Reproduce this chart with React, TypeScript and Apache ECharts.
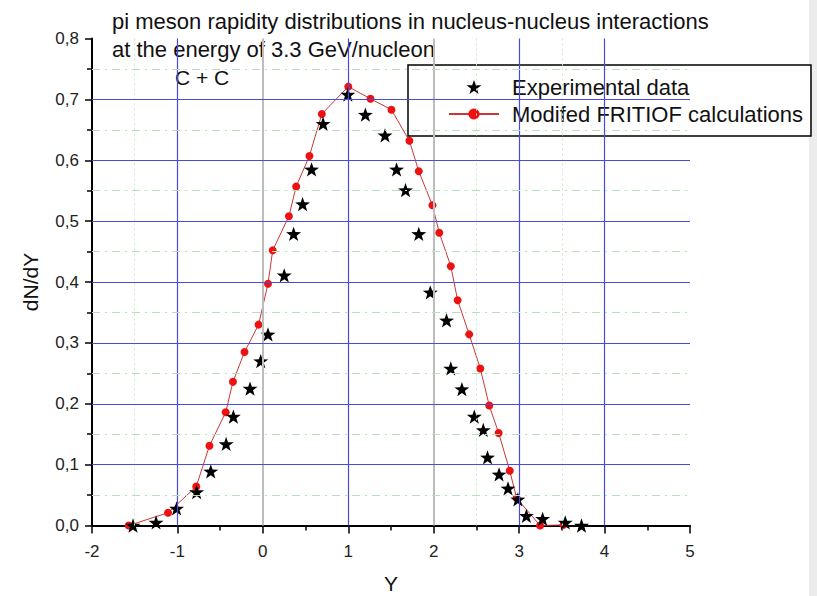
import React, { useEffect, useRef } from "react";
import * as echarts from "echarts";

// ---- data ----
const calcX = [-1.57, -1.11, -0.78, -0.625, -0.435, -0.35, -0.215, -0.05, 0.06, 0.115, 0.305, 0.39, 0.545, 0.69, 1.0, 1.26, 1.505, 1.715, 1.825, 1.985, 2.065, 2.2, 2.28, 2.415, 2.545, 2.65, 2.76, 2.89, 2.97, 3.245, 3.52];
const calcY = [0.0, 0.021, 0.064, 0.131, 0.186, 0.236, 0.285, 0.33, 0.397, 0.452, 0.508, 0.557, 0.607, 0.676, 0.721, 0.701, 0.683, 0.632, 0.582, 0.526, 0.481, 0.426, 0.37, 0.314, 0.258, 0.197, 0.152, 0.09, 0.045, 0.0, 0.001];

const expX = [-1.52, -1.25, -1.01, -0.775, -0.61, -0.43, -0.345, -0.15, -0.025, 0.06, 0.25, 0.36, 0.465, 0.57, 0.705, 0.995, 1.2, 1.43, 1.565, 1.67, 1.825, 1.96, 2.15, 2.2, 2.33, 2.475, 2.58, 2.63, 2.765, 2.87, 2.985, 3.085, 3.275, 3.54, 3.73];
const expY = [0.0, 0.005, 0.028, 0.055, 0.089, 0.134, 0.179, 0.225, 0.27, 0.314, 0.411, 0.479, 0.528, 0.585, 0.66, 0.708, 0.675, 0.641, 0.585, 0.551, 0.479, 0.383, 0.337, 0.258, 0.224, 0.179, 0.157, 0.112, 0.084, 0.061, 0.043, 0.016, 0.011, 0.005, 0.0];

const seriesNames = ["Experimental data", "Modifed FRITIOF calculations"];
const titleLines = ["pi meson rapidity distributions in nucleus-nucleus interactions", "at the energy of 3.3 GeV/nucleon"];
const subTitle = "C + C";
const xAxisName = "Y";
const yAxisName = "dN/dY";

// grid lines
const vBlue = [-1, 1, 3, 4];
const vGray = [0, 2];
const vGreen = [-1.5, 2.5, 3.5];
const hBlue = [0.1, 0.2, 0.3, 0.4, 0.5, 0.6, 0.7];
const hGreen = [0.05, 0.15, 0.25, 0.35, 0.45, 0.55, 0.65, 0.75];

const STAR = "path://M50,0L61.76,33.82L97.55,34.55L69.02,56.18L79.39,90.45L50,70L20.61,90.45L30.98,56.18L2.45,34.55L38.24,33.82Z";
const FONT = "Liberation Sans, Arial, sans-serif";

export default function App() {
  const ref = useRef<HTMLDivElement>(null);
  useEffect(() => {
    if (!ref.current) return;
    const chart = echarts.init(ref.current, undefined, { renderer: "svg" });
    const blue = "#4a4adc";
    const gridLines: any[] = [
      ...vBlue.map((v) => ({ xAxis: v, lineStyle: { color: blue, width: 1.2, type: "solid" } })),
      ...vGray.map((v) => ({ xAxis: v, lineStyle: { color: "#bdbdbd", width: 2, type: "solid" } })),
      ...vGreen.map((v) => ({ xAxis: v, lineStyle: { color: "#cce8cc", width: 1, type: [2, 3] } })),
      ...hBlue.map((v) => ({ yAxis: v, lineStyle: { color: blue, width: 1.2, type: "solid" } })),
      ...hGreen.map((v) => ({ yAxis: v, lineStyle: { color: "#b8e0b8", width: 1, type: [8, 5, 2, 5] } })),
    ];
    chart.setOption({
      animation: false,
      backgroundColor: "#ffffff",
      textStyle: { fontFamily: FONT },
      grid: { left: 92, right: 127, top: 38.5, bottom: 70.5, containLabel: false, outerBoundsMode: "none" },
      xAxis: {
        type: "value",
        min: -2,
        max: 5,
        interval: 1,
        name: xAxisName,
        nameLocation: "middle",
        nameGap: 47,
        nameTextStyle: { fontSize: 21, color: "#111", fontFamily: FONT },
        axisLine: { show: true, onZero: false, lineStyle: { color: "#000", width: 2 } },
        axisTick: { show: true, inside: false, length: 8, lineStyle: { color: "#000", width: 1.5 } },
        minorTick: { show: true, splitNumber: 2, length: 5, lineStyle: { color: "#000", width: 1.5 } },
        axisLabel: { fontSize: 17, color: "#222", margin: 17, fontFamily: FONT },
        splitLine: { show: false },
      },
      yAxis: {
        type: "value",
        min: 0,
        max: 0.8,
        interval: 0.1,
        name: yAxisName,
        nameLocation: "middle",
        nameGap: 51,
        nameRotate: 90,
        nameTextStyle: { fontSize: 21, color: "#111", fontFamily: FONT },
        axisLine: { show: true, onZero: false, lineStyle: { color: "#000", width: 2 } },
        axisTick: { show: true, inside: false, length: 7, lineStyle: { color: "#000", width: 1.5 } },
        minorTick: { show: true, splitNumber: 2, length: 5, lineStyle: { color: "#000", width: 1.5 } },
        axisLabel: {
          fontSize: 17,
          color: "#222",
          margin: 13,
          fontFamily: FONT,
          formatter: (v: number) => v.toFixed(1).replace(".", ","),
        },
        splitLine: { show: false },
      },
      legend: {
        orient: "vertical",
        left: 408,
        top: 65,
        padding: [11, 8, 11, 40],
        itemGap: 5,
        itemWidth: 50,
        itemHeight: 14,
        backgroundColor: "#fff",
        borderColor: "#000",
        borderWidth: 1.5,
        borderRadius: 0,
        data: seriesNames,
        textStyle: { fontSize: 22, color: "#111", fontFamily: FONT, padding: [0, 0, 0, 8] },
      },
      graphic: [
        {
          type: "rect",
          right: 0,
          top: 0,
          shape: { width: 8, height: 596 },
          style: { fill: "#ececec" },
          silent: true,
        },
        {
          type: "text",
          left: 112,
          top: 7,
          style: {
            text: titleLines.join("\n"),
            font: `22px ${FONT}`,
            lineHeight: 28,
            fill: "#111",
          },
        },
        {
          type: "text",
          left: 175,
          top: 67,
          style: { text: subTitle, font: `21px ${FONT}`, fill: "#111" },
        },
      ],
      series: [
        {
          name: "grid",
          type: "scatter",
          data: [],
          z: 1,
          silent: true,
          markLine: {
            silent: true,
            symbol: "none",
            label: { show: false },
            animation: false,
            data: gridLines,
          },
        },
        {
          name: seriesNames[0],
          type: "scatter",
          z: 4,
          symbol: STAR,
          symbolSize: 15,
          symbolKeepAspect: true,
          itemStyle: { color: "#000", opacity: 1 },
          data: expX.map((x, i) => [x, expY[i]]),
        },
        {
          name: seriesNames[1],
          type: "line",
          z: 3,
          symbol: "circle",
          symbolSize: 8,
          showSymbol: true,
          lineStyle: { color: "#c83838", width: 1 },
          itemStyle: { color: "#ee1111", opacity: 1 },
          data: calcX.map((x, i) => [x, calcY[i]]),
        },
      ],
    });
    return () => chart.dispose();
  }, []);
  return (
    <div
      ref={ref}
      style={{ position: "fixed", left: 0, top: 0, width: 817, height: 596 }}
    />
  );
}
